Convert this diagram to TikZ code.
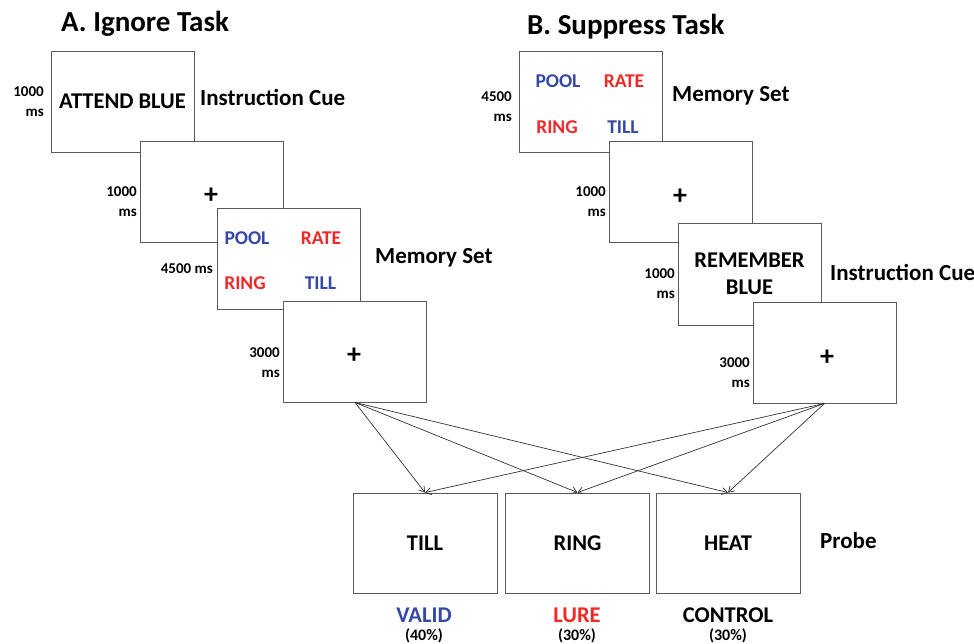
\documentclass[tikz,border=0pt]{standalone}
\usepackage{fontspec}
\setmainfont{Carlito}
\usetikzlibrary{arrows.meta}
\definecolor{wblue}{RGB}{53,72,166}
\definecolor{wred}{RGB}{240,40,40}
\definecolor{frame}{RGB}{90,90,90}
\tikzset{
  box/.style={draw=frame, fill=white, line width=0.9pt, minimum width=143pt, minimum height=101pt, inner sep=0pt, font=\fontsize{22.5}{27}\selectfont\bfseries, align=center},
  pbox/.style={box, minimum width=144pt, minimum height=100pt},
  title/.style={anchor=west, inner sep=0pt, font=\fontsize{29}{33}\selectfont\bfseries},
  lbl/.style={anchor=west, inner sep=0pt, font=\fontsize{23}{27}\selectfont\bfseries},
  dur/.style={anchor=east, inner sep=0pt, align=right, font=\fontsize{15}{20}\selectfont\bfseries},
  word/.style={inner sep=0pt, font=\fontsize{19.5}{22}\selectfont\bfseries},
  plus/.style={inner sep=0pt, font=\fontsize{28}{30}\selectfont\bfseries},
  cond/.style={inner sep=0pt, font=\fontsize{22.5}{26}\selectfont\bfseries},
  pct/.style={inner sep=0pt, font=\fontsize{16}{18}\selectfont\bfseries},
  arr/.style={draw=black!80, line width=0.7pt, -{Straight Barb[length=5.5pt,width=7pt]}}
}
\begin{document}
\begin{tikzpicture}[x=1pt,y=-1pt]
\useasboundingbox (0,0) rectangle (974,644);
% ---------- A. Ignore Task ----------
\node[title] (ta) at (61,24) {A. Ignore Task};
\node[box] (a1) at (122.5,101.5) {ATTEND BLUE};
\node[dur] (da1) at (44,102) {1000\\ms};
\node[lbl] (la1) at (200,98) {Instruction Cue};
\node[box] (a2) at (211.5,191.5) {};
\node[plus] (pa2) at (211,196) {+};
\node[dur] (da2) at (137,202) {1000\\ms};
\node[box] (a3) at (288.5,259) {};
\node[word, text=wblue] (wa1) at (247,238) {POOL};
\node[word, text=wred] (wa2) at (321,238) {RATE};
\node[word, text=wred] (wa3) at (245,283) {RING};
\node[word, text=wblue] (wa4) at (320.5,283) {TILL};
\node[dur, align=right] (da3) at (213,269) {4500 ms};
\node[lbl] (la3) at (375,258) {Memory Set};
\node[box] (a4) at (355,351.5) {};
\node[plus] (pa4) at (354,356) {+};
\node[dur] (da4) at (280,363) {3000\\ms};
% ---------- B. Suppress Task ----------
\node[title] (tb) at (527,27) {B. Suppress Task};
\node[box] (b1) at (591,101.5) {};
\node[word, text=wblue] (wb1) at (558,81) {POOL};
\node[word, text=wred] (wb2) at (624,81) {RATE};
\node[word, text=wred] (wb3) at (557,127) {RING};
\node[word, text=wblue] (wb4) at (623,127) {TILL};
\node[dur] (db1) at (512,107) {4500\\ms};
\node[lbl] (lb1) at (672,96) {Memory Set};
\node[box] (b2) at (681,192) {};
\node[plus] (pb2) at (680,197) {+};
\node[dur] (db2) at (606,202) {1000\\ms};
\node[box, minimum height=102pt] (b3) at (749.5,274) {REMEMBER\\BLUE};
\node[dur] (db3) at (675,284) {1000\\ms};
\node[lbl] (lb3) at (830,272) {Instruction Cue};
\node[box] (b4) at (824.5,352.5) {};
\node[plus] (pb4) at (827,358) {+};
\node[dur] (db4) at (750,373) {3000\\ms};
% ---------- Probe ----------
\node[pbox] (till) at (425,543) {TILL};
\node[pbox] (ring) at (577.5,543) {RING};
\node[pbox] (heat) at (728,543) {HEAT};
\node[lbl] (lp) at (820,541) {Probe};
\node[cond, text=wblue] (cv) at (424,615) {VALID};
\node[pct] (pv) at (424,636) {(40\%)};
\node[cond, text=wred] (cl) at (577,615) {LURE};
\node[pct] (pl) at (577,636) {(30\%)};
\node[cond] (cc) at (728,615) {CONTROL};
\node[pct] (pc) at (728,636) {(30\%)};
% ---------- connectors ----------
\foreach \t in {till,ring,heat}{
  \draw[arr] (a4.south) -- (\t.north);
  \draw[arr] (b4.south) -- (\t.north);
}
\end{tikzpicture}
\end{document}
